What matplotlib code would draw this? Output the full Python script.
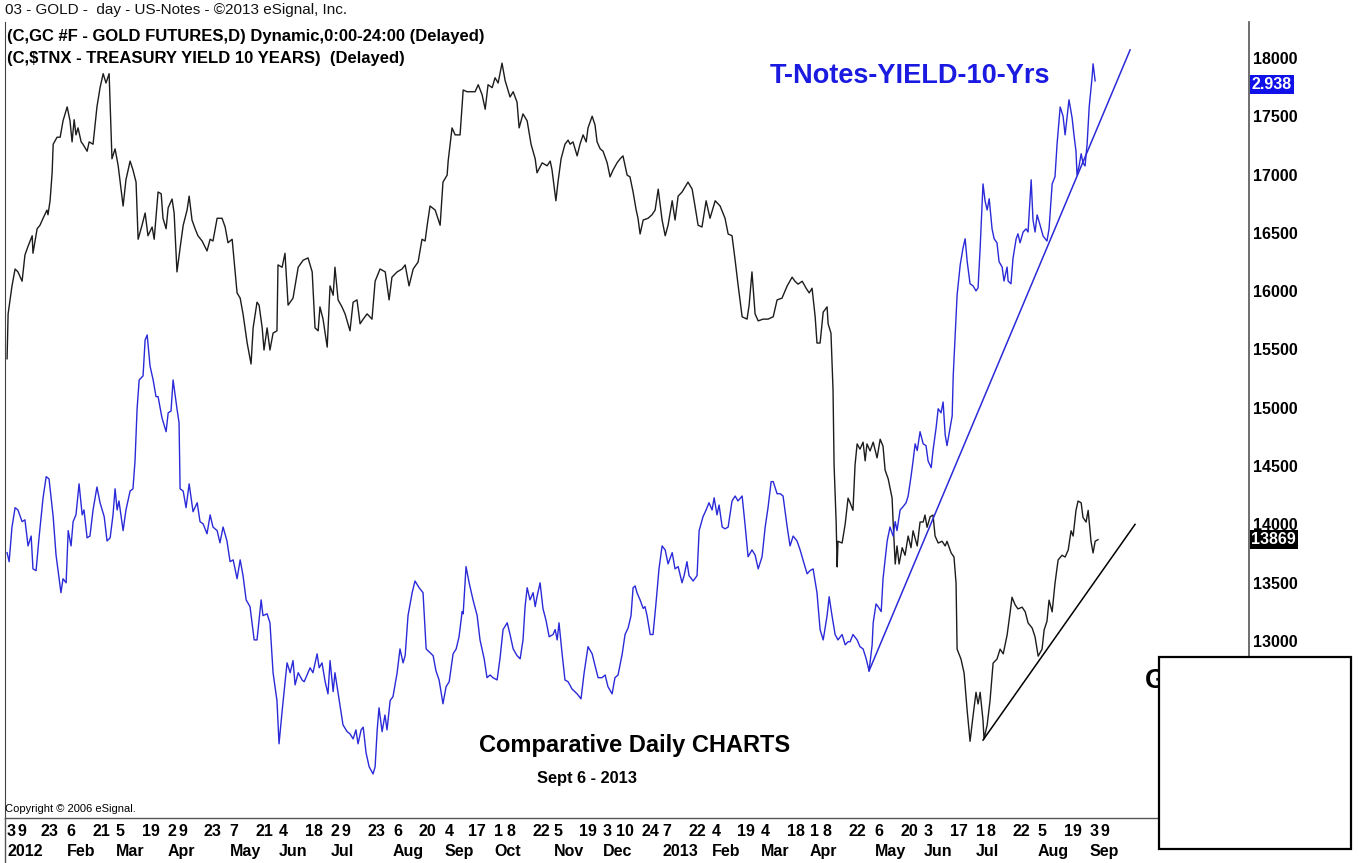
import matplotlib
matplotlib.use("Agg")
import matplotlib.pyplot as plt
from matplotlib.transforms import blended_transform_factory
from matplotlib.patches import Rectangle
from matplotlib.lines import Line2D
import pandas as pd

plt.rcParams['font.family'] = ['Liberation Sans', 'DejaVu Sans']

# ---------------- data (x = trading-day index from 3 Jan 2012) ----------------
gold_day = [
    0.0, 0.4, 1.9, 3.1, 4.2, 5.8, 6.9, 8.1, 9.7, 10.0,
    11.6, 12.7, 13.9, 15.4, 15.8, 16.6, 17.4, 17.8, 19.3, 20.5,
    21.6, 23.2, 24.3, 25.1, 25.9, 26.6, 27.4, 28.6, 29.3, 30.9,
    31.7, 33.2, 34.7, 35.9, 37.1, 38.2, 39.4, 40.5, 41.7, 42.9,
    44.8, 45.9, 47.5, 48.6, 49.8, 50.6, 52.1, 53.3, 54.4, 56.0,
    56.8, 58.3, 59.5, 60.2, 61.4, 62.2, 63.7, 64.5, 65.6, 66.8,
    68.0, 69.5, 70.3, 71.4, 72.6, 73.7, 75.3, 77.2, 78.4, 79.5,
    81.1, 83.0, 84.2, 85.3, 86.9, 88.8, 90.0, 91.1, 92.7, 94.2,
    95.0, 96.5, 97.3, 98.5, 99.2, 100.4, 101.5, 102.7, 104.2, 104.6,
    106.2, 107.3, 108.5, 110.4, 112.4, 114.3, 116.2, 117.8, 118.9, 120.1,
    120.8, 122.0, 123.6, 124.7, 125.9, 126.6, 127.8, 129.3, 130.5, 132.4,
    133.6, 135.1, 136.3, 137.5, 139.0, 140.9, 142.1, 144.0, 146.0, 147.5,
    148.6, 150.6, 152.5, 153.7, 155.2, 156.8, 158.7, 160.2, 161.4, 162.2,
    163.3, 165.3, 167.2, 168.3, 169.9, 170.3, 171.8, 173.0, 174.9, 176.1,
    177.6, 178.8, 180.7, 181.9, 183.4, 184.6, 185.7, 187.3, 188.4, 189.6,
    191.1, 192.3, 194.2, 195.4, 196.9, 197.7, 199.2, 200.8, 202.3, 203.9,
    204.6, 206.6, 208.5, 209.7, 210.4, 211.9, 212.7, 213.9, 215.4, 216.6,
    217.4, 218.5, 220.1, 221.2, 222.4, 223.6, 224.3, 225.9, 227.0, 227.8,
    229.0, 230.1, 231.7, 232.8, 234.0, 235.5, 236.7, 237.8, 239.4, 240.5,
    241.7, 242.9, 243.6, 244.4, 245.6, 247.5, 249.0, 250.2, 251.4, 252.9,
    254.1, 255.2, 256.8, 257.9, 259.1, 260.6, 261.8, 262.9, 264.5, 265.6,
    266.8, 268.3, 269.9, 271.4, 273.4, 275.3, 277.2, 278.4, 279.9, 281.1,
    282.2, 283.8, 285.7, 286.5, 287.6, 288.8, 290.0, 291.9, 293.8, 295.8,
    297.3, 299.2, 301.2, 303.1, 304.2, 305.4, 307.0, 308.5, 309.7, 310.8,
    312.0, 312.7, 313.9, 315.1, 316.6, 317.0, 318.1, 318.9, 319.3, 320.1,
    320.5, 320.8, 322.4, 323.6, 324.7, 325.5, 326.6, 327.4, 328.2, 329.3,
    330.5, 331.3, 332.0, 333.2, 334.4, 335.9, 337.1, 338.2, 339.0, 340.2,
    341.7, 342.1, 342.9, 343.6, 344.4, 345.6, 346.7, 347.9, 349.0, 349.8,
    351.4, 352.5, 353.7, 354.4, 355.2, 356.4, 357.5, 358.3, 359.5, 361.0,
    362.2, 362.9, 364.5, 365.6, 366.4, 366.8, 368.3, 369.5, 370.7, 371.8,
    373.0, 374.1, 374.9, 375.7, 376.8, 377.2, 378.4, 379.5, 380.7, 382.2,
    383.4, 384.6, 386.1, 387.3, 388.0, 389.2, 390.3, 391.9, 393.1, 394.2,
    395.8, 396.9, 398.1, 399.6, 400.4, 401.5, 402.3, 403.5, 404.6, 405.8,
    407.3, 408.5, 409.7, 410.8, 411.6, 412.7, 413.5, 414.7, 415.4, 416.6,
    417.4, 418.5, 419.3, 420.1, 421.2,
]
gold_val = [
    15420, 15805, 16045, 16190, 16165, 16085, 16310, 16385, 16475, 16325,
    16535, 16565, 16625, 16695, 16655, 16775, 17015, 17260, 17320, 17320,
    17460, 17580, 17460, 17280, 17470, 17340, 17400, 17280, 17260, 17200,
    17280, 17260, 17580, 17745, 17865, 17785, 17865, 17135, 17220, 17075,
    16730, 16955, 17115, 17040, 16935, 16445, 16565, 16670, 16475, 16550,
    16445, 16850, 16835, 16625, 16535, 16715, 16790, 16670, 16165, 16370,
    16565, 16695, 16815, 16610, 16535, 16475, 16430, 16345, 16445, 16430,
    16625, 16625, 16550, 16415, 16445, 15985, 15940, 15805, 15555, 15375,
    15685, 15905, 15880, 15685, 15495, 15685, 15495, 15640, 15660, 16225,
    16205, 16325, 15880, 15940, 16205, 16265, 16285, 16165, 15685, 15660,
    15865, 15760, 15520, 16045, 15965, 16205, 15925, 15865, 15805, 15660,
    15905, 15925, 15720, 15760, 15805, 15760, 16085, 16190, 16165, 15925,
    16120, 16165, 16190, 16225, 16045, 16190, 16250, 16445, 16430, 16565,
    16730, 16695, 16565, 16935, 16995, 17115, 17400, 17340, 17340, 17725,
    17710, 17710, 17710, 17770, 17685, 17560, 17770, 17745, 17830, 17785,
    17955, 17805, 17665, 17710, 17620, 17400, 17520, 17460, 17260, 17135,
    17015, 17100, 17075, 17115, 17040, 16775, 16935, 17135, 17260, 17295,
    17260, 17280, 17160, 17260, 17340, 17280, 17400, 17500, 17425, 17280,
    17220, 17200, 17100, 16980, 17040, 17100, 17135, 17160, 16995, 16980,
    16850, 16695, 16625, 16490, 16610, 16625, 16655, 16695, 16875, 16610,
    16475, 16565, 16775, 16610, 16815, 16850, 16895, 16935, 16875, 16730,
    16565, 16550, 16775, 16625, 16775, 16730, 16625, 16490, 16475, 16265,
    16060, 15780, 15760, 15880, 16165, 15805, 15745, 15760, 15760, 15780,
    15925, 15940, 16045, 16120, 16085, 16060, 16085, 16025, 15985, 16025,
    15780, 15555, 15555, 15820, 15865, 15720, 15640, 15150, 14510, 14020,
    13635, 13855, 13840, 14005, 14225, 14185, 14120, 14510, 14690, 14645,
    14705, 14545, 14690, 14630, 14705, 14570, 14730, 14670, 14465, 14390,
    14225, 14020, 13660, 13815, 13660, 13800, 13735, 13900, 13800, 13945,
    13815, 14020, 14020, 14080, 13975, 14065, 14080, 13900, 13840, 13855,
    13815, 13855, 13755, 13720, 13495, 12930, 12845, 12725, 12400, 12140,
    12365, 12560, 12460, 12560, 12320, 12160, 12280, 12485, 12810, 12845,
    12930, 12890, 13050, 13250, 13375, 13310, 13275, 13290, 13250, 13155,
    13110, 13035, 12870, 12930, 13095, 13170, 13350, 13250, 13495, 13695,
    13735, 13720, 13780, 13945, 13900, 14120, 14200, 14185, 14060, 14020,
    14120, 13855, 13755, 13855, 13869,
]

tnx_day = [
    0.0, 0.8, 1.9, 3.1, 4.2, 5.8, 6.9, 8.1, 9.3, 10.0,
    11.2, 12.4, 13.9, 15.1, 16.2, 17.8, 18.9, 20.8, 21.6, 22.8,
    23.6, 24.7, 25.5, 26.6, 27.8, 29.0, 29.7, 30.9, 32.0, 33.2,
    34.7, 35.9, 37.5, 38.6, 39.8, 40.9, 41.7, 42.5, 43.2, 44.8,
    45.9, 47.5, 48.6, 49.4, 50.2, 51.0, 52.5, 53.3, 54.1, 55.2,
    56.4, 57.5, 58.3, 59.8, 61.4, 62.2, 63.3, 64.1, 65.6, 66.4,
    66.8, 68.0, 69.1, 70.3, 71.8, 73.4, 74.5, 75.7, 77.2, 78.4,
    79.5, 81.1, 82.2, 83.4, 84.9, 86.1, 87.3, 88.8, 90.0, 91.1,
    92.3, 93.8, 95.4, 96.5, 98.1, 98.8, 100.4, 101.5, 102.7, 104.2,
    105.0, 106.2, 108.1, 109.3, 110.4, 111.2, 112.4, 113.9, 114.7, 115.8,
    117.0, 118.1, 119.7, 120.5, 121.6, 122.8, 123.9, 124.7, 125.9, 126.6,
    128.6, 129.7, 131.3, 132.4, 133.6, 134.7, 135.5, 136.7, 137.5, 138.6,
    139.8, 141.3, 142.1, 142.9, 143.6, 144.8, 145.9, 146.7, 147.9, 149.0,
    150.6, 151.7, 152.9, 153.7, 154.8, 156.4, 157.5, 159.1, 160.6, 161.8,
    162.9, 164.5, 165.6, 166.8, 168.3, 169.5, 170.7, 172.2, 173.4, 174.5,
    175.7, 176.1, 177.2, 178.4, 179.9, 181.5, 182.6, 184.2, 185.3, 186.5,
    187.6, 189.2, 190.3, 191.5, 193.1, 194.2, 195.4, 196.9, 198.1, 199.2,
    200.0, 200.8, 201.9, 203.1, 203.9, 204.6, 205.8, 206.9, 208.1, 209.3,
    210.8, 211.6, 212.4, 213.1, 214.3, 215.4, 216.6, 218.1, 220.1, 221.6,
    222.8, 224.3, 225.9, 227.0, 228.2, 229.7, 230.9, 232.0, 233.6, 234.7,
    235.9, 237.5, 238.6, 239.8, 240.9, 241.7, 242.5, 243.2, 244.4, 245.6,
    246.3, 247.1, 248.3, 249.4, 250.6, 251.7, 252.9, 254.1, 255.2, 256.8,
    257.9, 259.1, 260.6, 261.4, 262.5, 263.3, 264.9, 266.4, 267.2, 268.7,
    269.9, 271.0, 272.2, 273.0, 274.1, 274.9, 276.1, 277.2, 278.4, 279.9,
    281.1, 282.2, 283.8, 284.9, 286.1, 287.6, 288.8, 290.0, 291.5, 292.7,
    293.8, 295.0, 295.8, 297.3, 298.5, 299.6, 301.2, 302.3, 303.5, 305.0,
    306.2, 307.3, 308.9, 310.0, 311.2, 312.7, 313.9, 315.1, 316.6, 317.4,
    318.5, 319.7, 320.8, 322.4, 323.6, 324.7, 325.5, 326.6, 328.2, 329.3,
    330.5, 331.7, 332.8, 334.0, 334.4, 335.5, 336.3, 337.5, 338.2, 339.0,
    339.8, 340.9, 342.1, 342.9, 343.6, 344.8, 345.9, 347.1, 347.9, 349.0,
    349.8, 350.6, 351.4, 352.5, 353.7, 354.8, 355.6, 356.8, 357.5, 358.7,
    359.5, 360.6, 361.4, 362.2, 362.9, 364.1, 364.9, 365.3, 366.0, 366.8,
    368.0, 369.1, 369.9, 370.7, 371.8, 373.0, 374.1, 374.9, 375.7, 376.8,
    377.6, 378.4, 379.2, 380.3, 381.1, 382.2, 383.0, 384.2, 384.9, 386.1,
    386.5, 387.6, 388.4, 389.6, 390.3, 391.1, 392.3, 393.4, 394.2, 395.4,
    396.1, 396.9, 397.7, 398.8, 400.0, 401.5, 402.3, 403.5, 404.6, 405.4,
    406.6, 407.7, 408.5, 409.3, 410.0, 411.2, 412.0, 412.7, 413.1, 413.9,
    414.7, 415.4, 416.2, 417.0, 417.8, 418.9, 419.3, 420.1,
]
tnx_val = [
    1.889, 1.869, 1.946, 1.989, 1.984, 1.958, 1.962, 1.904, 1.926, 1.853,
    1.849, 1.926, 2.011, 2.058, 2.053, 1.969, 1.884, 1.800, 1.831, 1.822,
    1.938, 1.904, 1.958, 1.973, 2.042, 1.973, 1.984, 1.922, 1.926, 1.984,
    2.035, 2.000, 1.969, 1.915, 1.922, 1.973, 2.031, 1.984, 2.004, 1.938,
    1.984, 2.026, 2.031, 2.093, 2.209, 2.273, 2.282, 2.362, 2.373, 2.304,
    2.273, 2.236, 2.236, 2.189, 2.158, 2.200, 2.204, 2.273, 2.209, 2.178,
    2.031, 2.026, 1.989, 2.042, 1.980, 2.000, 1.958, 1.953, 1.931, 1.973,
    1.946, 1.938, 1.911, 1.946, 1.915, 1.869, 1.873, 1.831, 1.873, 1.838,
    1.784, 1.769, 1.695, 1.695, 1.784, 1.749, 1.753, 1.733, 1.622, 1.560,
    1.464, 1.537, 1.644, 1.622, 1.649, 1.595, 1.622, 1.606, 1.602, 1.617,
    1.633, 1.622, 1.664, 1.633, 1.644, 1.602, 1.575, 1.649, 1.580, 1.622,
    1.548, 1.506, 1.491, 1.486, 1.475, 1.495, 1.464, 1.495, 1.501, 1.444,
    1.413, 1.397, 1.413, 1.495, 1.544, 1.491, 1.528, 1.495, 1.560, 1.569,
    1.622, 1.675, 1.644, 1.660, 1.749, 1.800, 1.826, 1.811, 1.800, 1.675,
    1.669, 1.660, 1.626, 1.606, 1.553, 1.591, 1.602, 1.664, 1.675, 1.702,
    1.758, 1.753, 1.858, 1.822, 1.784, 1.749, 1.695, 1.653, 1.611, 1.617,
    1.611, 1.606, 1.653, 1.718, 1.733, 1.707, 1.675, 1.660, 1.653, 1.695,
    1.769, 1.811, 1.784, 1.800, 1.769, 1.791, 1.822, 1.765, 1.738, 1.702,
    1.707, 1.718, 1.695, 1.733, 1.664, 1.606, 1.602, 1.586, 1.575, 1.564,
    1.622, 1.680, 1.664, 1.638, 1.611, 1.611, 1.617, 1.591, 1.575, 1.611,
    1.617, 1.664, 1.707, 1.722, 1.749, 1.811, 1.815, 1.800, 1.784, 1.765,
    1.769, 1.749, 1.707, 1.707, 1.780, 1.853, 1.904, 1.895, 1.864, 1.889,
    1.853, 1.858, 1.822, 1.838, 1.869, 1.838, 1.826, 1.838, 1.938, 1.969,
    1.984, 2.000, 1.984, 2.011, 1.973, 1.995, 1.946, 1.942, 1.946, 2.004,
    2.015, 2.004, 2.015, 1.953, 1.880, 1.895, 1.884, 1.853, 1.880, 1.946,
    1.989, 2.047, 2.047, 2.020, 2.020, 2.015, 1.946, 1.904, 1.926, 1.915,
    1.895, 1.873, 1.842, 1.849, 1.853, 1.800, 1.718, 1.695, 1.749, 1.791,
    1.749, 1.707, 1.695, 1.707, 1.684, 1.691, 1.691, 1.707, 1.695, 1.680,
    1.675, 1.653, 1.626, 1.684, 1.733, 1.775, 1.769, 1.758, 1.831, 1.873,
    1.915, 1.946, 1.926, 1.958, 1.938, 1.984, 1.991, 2.000, 2.015, 2.058,
    2.093, 2.131, 2.116, 2.158, 2.131, 2.127, 2.093, 2.078, 2.116, 2.167,
    2.209, 2.200, 2.224, 2.151, 2.127, 2.167, 2.193, 2.282, 2.367, 2.462,
    2.529, 2.567, 2.587, 2.536, 2.487, 2.482, 2.471, 2.478, 2.567, 2.709,
    2.671, 2.651, 2.676, 2.609, 2.587, 2.578, 2.536, 2.524, 2.493, 2.524,
    2.493, 2.487, 2.544, 2.587, 2.598, 2.578, 2.602, 2.609, 2.602, 2.718,
    2.629, 2.602, 2.640, 2.618, 2.593, 2.582, 2.609, 2.709, 2.725, 2.798,
    2.880, 2.860, 2.818, 2.860, 2.896, 2.856, 2.814, 2.782, 2.729, 2.749,
    2.776, 2.756, 2.749, 2.798, 2.880, 2.945, 2.976, 2.938,
]

gold_trend_day = [376.8, 435.5]
gold_trend_val = [12150, 14000]
tnx_trend_day = [332.8, 433.6]
tnx_trend_val = [1.626, 3.007]

gold_ticks = [13000, 13500, 14000, 14500, 15000, 15500, 16000, 16500, 17000, 17500, 18000]
gold_last = 13869
tnx_last = 2.938

market_holidays = ['2012-01-16', '2012-02-20', '2012-04-06', '2012-05-28', '2012-07-04',
                   '2012-09-03', '2012-10-29', '2012-10-30', '2012-11-22', '2012-12-25',
                   '2013-01-01', '2013-01-21', '2013-02-18', '2013-03-29', '2013-05-27',
                   '2013-07-04', '2013-09-02']
tick_dates = ['2012-01-03', '2012-01-09', '2012-01-23', '2012-02-06', '2012-02-21',
              '2012-03-05', '2012-03-19', '2012-04-02', '2012-04-09', '2012-04-23',
              '2012-05-07', '2012-05-21', '2012-06-04', '2012-06-18', '2012-07-02',
              '2012-07-09', '2012-07-23', '2012-08-06', '2012-08-20', '2012-09-04',
              '2012-09-17', '2012-10-01', '2012-10-08', '2012-10-22', '2012-11-05',
              '2012-11-19', '2012-12-03', '2012-12-10', '2012-12-24', '2013-01-07',
              '2013-01-22', '2013-02-04', '2013-02-19', '2013-03-04', '2013-03-18',
              '2013-04-01', '2013-04-08', '2013-04-22', '2013-05-06', '2013-05-20',
              '2013-06-03', '2013-06-17', '2013-07-01', '2013-07-08', '2013-07-22',
              '2013-08-05', '2013-08-19', '2013-09-03', '2013-09-09']

# ---------------- layout helpers ----------------
W, H = 1359, 863
fig = plt.figure(figsize=(W / 100, H / 100), dpi=100)
fig.patch.set_facecolor('white')


def fx(px):
    return px / W


def fy(py):
    return 1 - py / H


L, R, T, B = 5, 1249, 22, 818
ax = fig.add_axes([fx(L), fy(B), (R - L) / W, (B - T) / H])
ax.set_xlim(-0.8, 479.5)
ax.set_ylim(11482, 18308)
ax2 = ax.twinx()
ax2.set_ylim(1.299, 3.069)

GOLD_C = '#1c1c1c'
BLUE_C = '#2a2ad8'

ax.plot(gold_day, gold_val, color=GOLD_C, lw=1.0, solid_joinstyle='round')
ax.plot(gold_trend_day, gold_trend_val, color='black', lw=1.1)
ax2.plot(tnx_day, tnx_val, color=BLUE_C, lw=1.0, solid_joinstyle='round')
ax2.plot(tnx_trend_day, tnx_trend_val, color=BLUE_C, lw=1.1)

for a in (ax, ax2):
    a.set_xticks([])
    for s in a.spines.values():
        s.set_visible(False)
ax2.set_yticks([])
ax.spines['left'].set_visible(True)
ax.spines['right'].set_visible(True)
ax.spines['left'].set_color('#444444')
ax.spines['right'].set_color('#555555')
ax.spines['right'].set_linewidth(1.2)

ax.yaxis.tick_right()
ax.set_yticks(gold_ticks)
ax.set_yticklabels([str(v) for v in gold_ticks])
ax.tick_params(axis='y', length=0, pad=3, labelsize=11.5)
for lbl in ax.get_yticklabels():
    lbl.set_fontweight('bold')

# last value flags
bt = blended_transform_factory(ax.transAxes, ax.transData)
ax.text(1.0 + 2.5 / (R - L), gold_last, '13869', transform=bt, ha='left', va='center',
        color='white', fontsize=11.5, fontweight='bold', zorder=10,
        bbox=dict(boxstyle='square,pad=0.12', fc='black', ec='none'))
bt2 = blended_transform_factory(ax2.transAxes, ax2.transData)
ax2.text(1.0 + 2.5 / (R - L), tnx_last - 0.008, '2.938', transform=bt2, ha='left', va='center',
         color='white', fontsize=11.5, fontweight='bold', zorder=10,
         bbox=dict(boxstyle='square,pad=0.12', fc='#1010e8', ec='none'))

# ---------------- header texts ----------------
fig.text(fx(5), fy(10), '03 - GOLD -  day - US-Notes - ©2013 eSignal, Inc.', fontsize=11,
         va='center', ha='left', color='#111111')
fig.text(fx(7), fy(37), '(C,GC #F - GOLD FUTURES,D) Dynamic,0:00-24:00 (Delayed)', fontsize=12,
         fontweight='bold', va='center', ha='left')
fig.text(fx(7), fy(58), '(C,\\$TNX - TREASURY YIELD 10 YEARS)  (Delayed)', fontsize=12,
         fontweight='bold', va='center', ha='left')
fig.text(fx(770), fy(76), 'T-Notes-YIELD-10-Yrs', fontsize=19.5, fontweight='bold',
         color='#1a1ae0', va='center', ha='left')
fig.text(fx(479), fy(745), 'Comparative Daily CHARTS', fontsize=17, fontweight='bold',
         va='center', ha='left')
fig.text(fx(537), fy(778), 'Sept 6 - 2013', fontsize=11.8, fontweight='bold',
         va='center', ha='left')
fig.text(fx(5), fy(809), 'Copyright © 2006 eSignal.', fontsize=8, va='center', ha='left')

# partially hidden label and white box
fig.text(fx(1145), fy(681), 'GOLD', fontsize=19.5, fontweight='bold', va='center', ha='left',
         zorder=5)
fig.patches.append(Rectangle((fx(1159), fy(849)), (1351 - 1159) / W, (849 - 657) / H,
                             transform=fig.transFigure, facecolor='white', edgecolor='black',
                             linewidth=1.6, zorder=10))

# ---------------- date strip ----------------
fig.lines.append(Line2D([fx(L), fx(1300)], [fy(B), fy(B)], transform=fig.transFigure,
                        color='#555555', lw=1.0))
fig.lines.append(Line2D([fx(L), fx(L)], [fy(B), fy(862)], transform=fig.transFigure,
                        color='#555555', lw=1.0))

trading_days = pd.bdate_range('2012-01-03', '2013-09-30')
trading_days = trading_days[~trading_days.isin(pd.to_datetime(market_holidays))]
pos = {d: i for i, d in enumerate(trading_days)}
tb = blended_transform_factory(ax.transData, fig.transFigure)
prev_month = None
for ds in tick_dates:
    d = pd.Timestamp(ds)
    x = pos[d]
    ax.text(x, fy(831), str(d.day), transform=tb, ha='left', va='center',
            fontsize=11.5, fontweight='bold', clip_on=False)
    key = (d.year, d.month)
    if key != prev_month:
        lab = str(d.year) if d.month == 1 else d.strftime('%b')
        ax.text(x, fy(851), lab, transform=tb, ha='left', va='center',
                fontsize=11.5, fontweight='bold', clip_on=False)
        prev_month = key

fig.savefig('out.png', dpi=100, facecolor='white')
